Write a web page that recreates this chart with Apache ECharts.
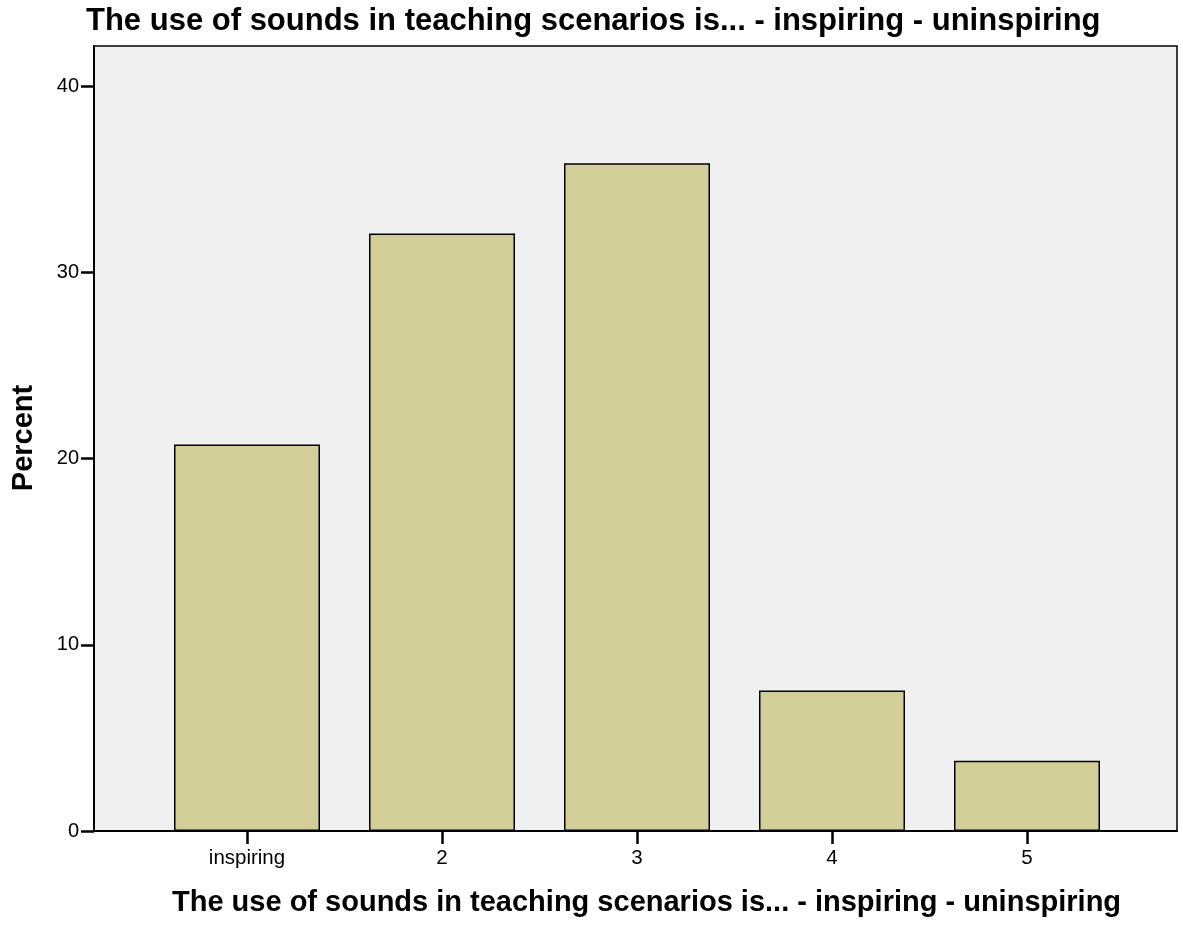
<!DOCTYPE html>
<html>
<head>
<meta charset="utf-8">
<script src="https://cdn.jsdelivr.net/npm/echarts@6/dist/echarts.min.js"></script>
<style>
html,body{margin:0;padding:0;background:#fff;}
#chart{width:1183px;height:926px;}
</style>
</head>
<body>
<div id="chart"></div>
<script>
var categories = ['inspiring', '2', '3', '4', '5'];
var percentValues = [20.75, 32.08, 35.85, 7.55, 3.77];
var yTickMax = 42.15;
var titleText = 'The use of sounds in teaching scenarios is... - inspiring - uninspiring';
var yAxisTitle = 'Percent';

var FONT = "'Liberation Sans', Arial, sans-serif";
var chart = echarts.init(document.getElementById('chart'), null, {renderer: 'canvas'});

var option = {
  backgroundColor: '#ffffff',
  animation: false,
  grid: [
    {left: 94, right: 6, top: 46, bottom: 95, show: true, backgroundColor: '#f0f0f0',
     borderColor: '#000', borderWidth: 1.5, containLabel: false},
    {left: 149.5, right: 58.5, top: 46, bottom: 95, containLabel: false}
  ],
  xAxis: [
    {type: 'value', gridIndex: 0, min: 0, max: 1, axisLine: {show: true, lineStyle: {color: '#000', width: 2}},
     axisTick: {show: false}, axisLabel: {show: false}, splitLine: {show: false}},
    {type: 'category', gridIndex: 1, data: categories,
     axisLine: {show: false},
     axisTick: {show: true, alignWithLabel: true, length: 13, lineStyle: {color: '#000', width: 2.5}},
     axisLabel: {color: '#000', fontSize: 20.5, fontFamily: FONT, margin: 17},
     splitLine: {show: false}}
  ],
  yAxis: [
    {type: 'value', gridIndex: 0, min: 0, max: yTickMax, interval: 10,
     axisLine: {show: true, lineStyle: {color: '#000', width: 2}},
     axisTick: {show: true, length: 13, lineStyle: {color: '#000', width: 2.5}},
     axisLabel: {color: '#000', fontSize: 20, fontFamily: FONT, margin: 15,
       padding: [6, 0, 0, 0], showMaxLabel: false},
     splitLine: {show: false}},
    {type: 'value', gridIndex: 1, min: 0, max: yTickMax, show: false, splitLine: {show: false}}
  ],
  series: [{
    type: 'bar', xAxisIndex: 1, yAxisIndex: 1, data: percentValues,
    barWidth: 146,
    itemStyle: {color: '#d3ce98', borderColor: '#000', borderWidth: 1.5}
  }],
  graphic: [
    {type: 'text', x: 86, y: 21, style: {text: titleText, fontSize: 31, fontWeight: 'bold', fontFamily: FONT, fill: '#000', align: 'left', verticalAlign: 'middle'}},
    {type: 'text', x: 172, y: 903, style: {text: titleText, fontSize: 29, fontWeight: 'bold', fontFamily: FONT, fill: '#000', align: 'left', verticalAlign: 'middle'}},
    {type: 'text', x: 24, y: 438, rotation: Math.PI / 2,
     style: {text: yAxisTitle, fontSize: 29, fontWeight: 'bold', fontFamily: FONT, fill: '#000', align: 'center', verticalAlign: 'middle'}}
  ]
};
chart.setOption(option);
</script>
</body>
</html>
